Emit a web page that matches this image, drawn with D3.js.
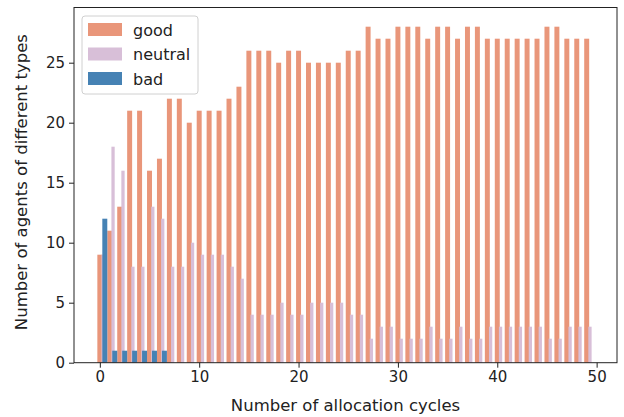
<!DOCTYPE html>
<html>
<head>
<meta charset="utf-8">
<script src="https://cdn.jsdelivr.net/npm/d3@7"></script>
<style>
  body { margin: 0; background: #fff; }
  text { font-family: "DejaVu Sans", sans-serif; fill: #222; }
</style>
</head>
<body>
<script>
// data (30 agents in total each cycle)
let cycles = d3.range(0, 50)
let good = [9, 11, 13, 21, 21, 16, 17, 22, 22, 20,
            21, 21, 21, 22, 23, 26, 26, 26, 25, 26,
            26, 25, 25, 25, 25, 26, 26, 28, 27, 27,
            28, 28, 28, 27, 28, 28, 27, 28, 28, 27,
            27, 27, 27, 27, 27, 28, 28, 27, 27, 27]
let neutral = [9, 18, 16, 8, 8, 13, 12, 8, 8, 10,
               9, 9, 9, 8, 7, 4, 4, 4, 5, 4,
               4, 5, 5, 5, 5, 4, 4, 2, 3, 3,
               2, 2, 2, 3, 2, 2, 3, 2, 2, 3,
               3, 3, 3, 3, 3, 2, 2, 3, 3, 3]
let bad = [12, 1, 1, 1, 1, 1, 1, 0, 0, 0,
           0, 0, 0, 0, 0, 0, 0, 0, 0, 0,
           0, 0, 0, 0, 0, 0, 0, 0, 0, 0,
           0, 0, 0, 0, 0, 0, 0, 0, 0, 0,
           0, 0, 0, 0, 0, 0, 0, 0, 0, 0]
let xTicks = [0, 10, 20, 30, 40, 50]
let yTicks = [0, 5, 10, 15, 20, 25]

let W = 624, H = 417
let mLeft = 74, mRight = 617, mTop = 7.5, mBottom = 362.7

let svg = d3.select('body').append('svg')
    .attr('width', W)
    .attr('height', H)

let x = d3.scaleLinear().domain([-2.6, 52.05]).range([mLeft, mRight])
let y = d3.scaleLinear().domain([0, 29.6]).range([mBottom, mTop])

// series: values, offset from cycle, bar width (in cycle units)
let series = [
    {name: 'good', values: good, off: 0, w: 0.5, color: '#E9967A'},
    {name: 'neutral', values: neutral, off: 0.33, w: 0.33, color: '#D8BFD8'},
    {name: 'bad', values: bad, off: 0.5, w: 0.5, color: '#4682B4'}
]

let plot = svg.append('g')

series.forEach(s => {
    plot.append('g').selectAll('rect')
        .data(cycles.filter(i => s.values[i] > 0))
        .join('rect')
        .attr('x', i => x(i + s.off - s.w / 2))
        .attr('width', i => x(s.w) - x(0))
        .attr('y', i => y(s.values[i]))
        .attr('height', i => y(0) - y(s.values[i]))
        .attr('fill', s.color)
})

// axes
let xAxis = svg.append('g')
    .attr('transform', `translate(0,${mBottom})`)
    .call(d3.axisBottom(x).tickValues(xTicks).tickSize(5).tickPadding(4))
let yAxis = svg.append('g')
    .attr('transform', `translate(${mLeft},0)`)
    .call(d3.axisLeft(y).tickValues(yTicks).tickSize(5).tickPadding(4))

;[xAxis, yAxis].forEach(a => {
    a.select('.domain').remove()
    a.selectAll('text').style('font-size', '15px').style('font-family', '"DejaVu Sans", sans-serif').attr('fill', '#222')
    a.selectAll('line').attr('stroke', '#222')
})

// frame
svg.append('rect')
    .attr('x', mLeft)
    .attr('y', mTop)
    .attr('width', mRight - mLeft)
    .attr('height', mBottom - mTop)
    .attr('fill', 'none')
    .attr('stroke', '#222')
    .attr('stroke-width', 1)

svg.append('text')
    .attr('x', (mLeft + mRight) / 2)
    .attr('y', 411)
    .attr('text-anchor', 'middle')
    .style('font-size', '16.5px')
    .text('Number of allocation cycles')

svg.append('text')
    .attr('transform', `translate(27,${(mTop + mBottom) / 2 - 3}) rotate(-90)`)
    .attr('text-anchor', 'middle')
    .style('font-size', '16.5px')
    .text('Number of agents of different types')

// legend
let legend = svg.append('g')
legend.append('rect')
    .attr('x', 82)
    .attr('y', 16)
    .attr('width', 116)
    .attr('height', 78)
    .attr('rx', 3)
    .attr('fill', 'rgba(255,255,255,0.8)')
    .attr('stroke', '#d0d0d0')

series.forEach((s, k) => {
    let cy = 30 + k * 24.5
    legend.append('rect')
        .attr('x', 88)
        .attr('y', cy - 7)
        .attr('width', 34)
        .attr('height', 13)
        .attr('fill', s.color)
    legend.append('text')
        .attr('x', 133)
        .attr('y', cy + 5.5)
        .style('font-size', '16px')
        .text(s.name)
})
</script>
</body>
</html>
